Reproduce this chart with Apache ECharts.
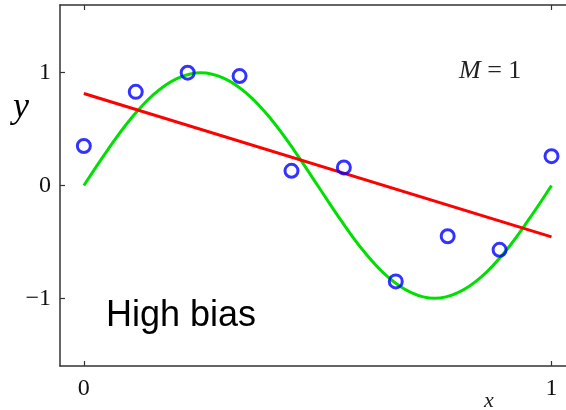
<!DOCTYPE html>
<html>
<head>
<meta charset="utf-8">
<script src="https://cdn.jsdelivr.net/npm/echarts@6/dist/echarts.min.js"></script>
<style>html,body{margin:0;padding:0;background:#fff}#c{width:566px;height:410px}</style>
</head>
<body>
<div id="c"></div>
<script>
// Observed data points
const pointX = [0, 0.111, 0.222, 0.333, 0.444, 0.556, 0.667, 0.778, 0.889, 1];
const pointY = [0.35, 0.83, 1.0, 0.97, 0.13, 0.16, -0.85, -0.45, -0.57, 0.26];
// Fitted M=1 line
const fitX = [0, 1];
const fitY = [0.815, -0.455];
// True curve
const curveX = [0, 0.05, 0.1, 0.15, 0.2, 0.25, 0.3, 0.35, 0.4, 0.45, 0.5, 0.55, 0.6, 0.65, 0.7, 0.75, 0.8, 0.85, 0.9, 0.95, 1];
const curveY = [0, 0.31, 0.59, 0.81, 0.95, 1.0, 0.95, 0.81, 0.59, 0.31, 0, -0.31, -0.59, -0.81, -0.95, -1.0, -0.95, -0.81, -0.59, -0.31, 0];
// Tick labels
const xTicks = [0, 1];
const yTicks = [-1, 0, 1];

const zip = (a, b) => a.map((v, i) => [v, b[i]]);
const serif = '"Liberation Serif", "DejaVu Serif", serif';
const chart = echarts.init(document.getElementById('c'), null, {renderer: 'canvas'});
chart.setOption({
  animation: false,
  grid: {left: 60, top: 5, right: 0, height: 361},
  xAxis: [{
    type: 'value', min: -0.051, max: 1.031, position: 'bottom',
    axisLine: {show: true, onZero: false, lineStyle: {color: '#333', width: 1.5}},
    axisTick: {show: true, inside: true, length: 5, customValues: xTicks, lineStyle: {color: '#333', width: 1.2}},
    axisLabel: {show: true, customValues: xTicks, margin: 11, fontFamily: serif, fontSize: 24, color: '#111'},
    splitLine: {show: false}
  }, {
    type: 'value', min: -0.051, max: 1.031, position: 'top',
    axisLine: {show: true, onZero: false, lineStyle: {color: '#333', width: 1.5}},
    axisTick: {show: true, inside: true, length: 5, customValues: xTicks, lineStyle: {color: '#333', width: 1.2}},
    axisLabel: {show: false},
    splitLine: {show: false}
  }],
  yAxis: {
    type: 'value', min: -1.6, max: 1.6,
    axisLine: {show: true, onZero: false, lineStyle: {color: '#333', width: 1.5}},
    axisTick: {show: true, inside: true, length: 5, customValues: yTicks, lineStyle: {color: '#333', width: 1.2}},
    axisLabel: {show: true, customValues: yTicks, margin: 9, fontFamily: serif, fontSize: 24, color: '#111',
      formatter: v => (v < 0 ? '\u2212' + Math.abs(v) : String(v))},
    splitLine: {show: false}
  },
  series: [{
    type: 'line', data: zip(curveX, curveY), smooth: 0.4, showSymbol: false,
    lineStyle: {color: '#00e000', width: 3}, z: 2
  }, {
    type: 'line', data: zip(fitX, fitY), showSymbol: false,
    lineStyle: {color: '#ff0000', width: 3}, z: 3
  }, {
    type: 'scatter', data: zip(pointX, pointY), symbol: 'circle', symbolSize: 13,
    itemStyle: {color: 'rgba(255,255,255,0)', borderColor: '#0000ff', borderWidth: 3}, z: 4
  }],
  graphic: [
    {type: 'text', left: 106, top: 298, style: {text: 'High bias', font: '36px "Liberation Sans", Arial, sans-serif', fill: '#000'}},
    {type: 'text', left: 13, top: 90, style: {text: 'y', font: 'italic 36px "Liberation Serif", serif', fill: '#000'}},
    {type: 'text', left: 459, top: 58, style: {text: '{i|M} = 1', rich: {i: {fontStyle: 'italic', fontFamily: serif, fontSize: 26, fill: '#222'}}, font: '26px "Liberation Serif", serif', fill: '#222'}},
    {type: 'text', left: 484, top: 390, style: {text: 'x', font: 'italic 22px "Liberation Serif", serif', fill: '#222'}}
  ]
});
</script>
</body>
</html>
